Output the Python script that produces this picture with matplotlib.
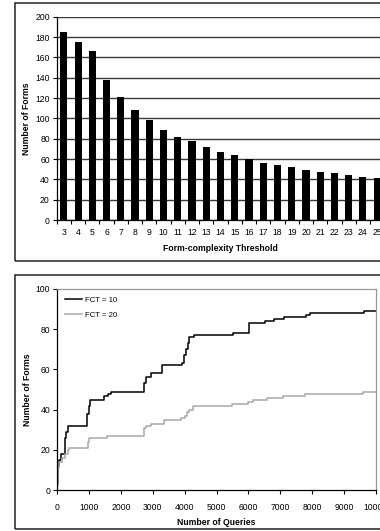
import matplotlib.pyplot as plt
import numpy as np
from matplotlib.patches import Rectangle

plt.rcParams['font.family'] = ['Liberation Sans', 'DejaVu Sans']

# Top chart: number of forms per form-complexity threshold
thresholds = list(range(3, 26))
forms = [185, 175, 166, 138, 121, 108, 98, 89, 82, 78, 72, 67, 64, 60,
         56, 54, 52, 49, 47, 46, 44, 42, 41]

# Bottom chart: cumulative forms vs number of queries (step change points)
q_fct10 = [0, 10, 60, 130, 250, 280, 330, 940, 980, 1030, 1480, 1600, 1700,
           2720, 2780, 2950, 3290, 3930, 3990, 4040, 4090, 4150, 4280, 5520,
           6030, 6520, 6820, 7120, 7820, 7950, 9620, 10000]
f_fct10 = [3, 12, 15, 18, 26, 29, 32, 38, 42, 45, 47, 48, 49,
           53, 56, 58, 62, 63, 67, 70, 73, 76, 77, 78,
           83, 84, 85, 86, 87, 88, 89, 89]
q_fct20 = [0, 15, 60, 150, 250, 330, 380, 950, 1010, 1550, 2720, 2780, 2950,
           3340, 3880, 4000, 4080, 4150, 4250, 5500, 6000, 6150, 6600, 7100,
           7780, 9600, 10000]
f_fct20 = [2, 11, 14, 16, 18, 20, 21, 24, 26, 27, 31, 32, 33,
           35, 36, 37, 39, 40, 42, 43, 44, 45, 46, 47,
           48, 49, 49]

W, H = 380, 531
fig = plt.figure(figsize=(W / 100, H / 100), dpi=100)

# outer frames around each chart
fig.add_artist(Rectangle((15 / W, 1 - 260.5 / H), 1.2, 257.5 / H,
                         transform=fig.transFigure, fill=False,
                         edgecolor='#222222', linewidth=1.1))
fig.add_artist(Rectangle((15 / W, 1 - 529 / H), 1.2, 254.5 / H,
                         transform=fig.transFigure, fill=False,
                         edgecolor='#222222', linewidth=1.1))

tick_fs = 6.2
label_fs = 6.2

# ---- top bar chart ----
ax1 = fig.add_axes([56.7 / W, 1 - 220 / H, (384.3 - 56.7) / W, (220 - 16.7) / H])
pos = np.arange(len(thresholds))
ax1.set_axisbelow(True)
ax1.bar(pos, forms, width=0.5, color='black', zorder=3)
ax1.set_xlim(-0.5, len(thresholds) - 0.5)
ax1.set_ylim(0, 200)
ax1.set_yticks(range(0, 201, 20))
ax1.yaxis.grid(True, color='#3a3a3a', linewidth=1.0)
ax1.set_xticks(pos)
ax1.set_xticklabels([str(t) for t in thresholds])
ax1.set_xticks(np.arange(-0.5, len(thresholds), 1), minor=True)
ax1.tick_params(axis='x', which='major', length=0, pad=6, labelsize=tick_fs)
ax1.tick_params(axis='x', which='minor', length=3, width=0.8, direction='out')
ax1.tick_params(axis='y', length=3, width=0.8, pad=2, labelsize=tick_fs)
for s in ['top', 'right']:
    ax1.spines[s].set_visible(False)
for s in ['left', 'bottom']:
    ax1.spines[s].set_linewidth(0.9)
ax1.set_xlabel('Form-complexity Threshold', fontsize=label_fs,
               fontweight='bold', labelpad=5)
ax1.set_ylabel('Number of Forms', fontsize=label_fs, fontweight='bold',
               labelpad=3)

# ---- bottom line chart ----
ax2 = fig.add_axes([57.3 / W, 1 - 490 / H, (375.7 - 57.3) / W, (490 - 289) / H])
ax2.plot(q_fct10, f_fct10, drawstyle='steps-post', color='black',
         linewidth=1.1, label='FCT = 10')
ax2.plot(q_fct20, f_fct20, drawstyle='steps-post', color='#a8a8a8',
         linewidth=1.1, label='FCT = 20')
ax2.set_xlim(0, 10000)
ax2.set_ylim(0, 100)
ax2.set_xticks(range(0, 10001, 1000))
ax2.set_yticks(range(0, 101, 20))
ax2.tick_params(axis='both', length=3, width=0.8, labelsize=tick_fs)
ax2.tick_params(axis='x', pad=6)
ax2.tick_params(axis='y', pad=2)
for s in ['top', 'right']:
    ax2.spines[s].set_color('#999999')
    ax2.spines[s].set_linewidth(0.9)
for s in ['left', 'bottom']:
    ax2.spines[s].set_linewidth(0.9)
ax2.set_xlabel('Number of Queries', fontsize=label_fs, fontweight='bold',
               labelpad=5)
ax2.set_ylabel('Number of Forms', fontsize=label_fs, fontweight='bold',
               labelpad=3)
ax2.legend(loc='upper left', frameon=False, fontsize=5.6, handlelength=2.2,
           handletextpad=0.3, labelspacing=0.9, borderaxespad=0.6)

fig.savefig('out.png', dpi=100)
